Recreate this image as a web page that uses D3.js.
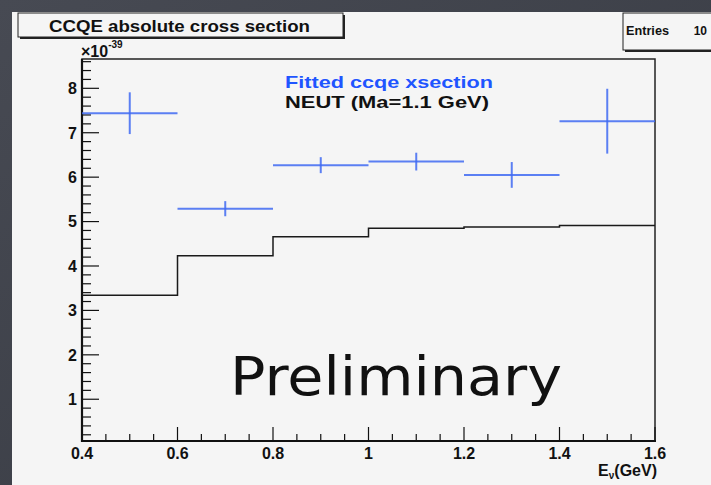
<!DOCTYPE html>
<html><head><meta charset="utf-8">
<script src="https://cdn.jsdelivr.net/npm/d3@7"></script>
<style>
html,body{margin:0;padding:0;background:#3d4048;}
svg{display:block;}
</style></head>
<body>
<script>
// ---- data ----
const binEdges = [0.4, 0.6, 0.8, 1.0, 1.2, 1.4, 1.6];
const fittedValues = [7.44, 5.29, 6.27, 6.35, 6.05, 7.26];
const fittedErrors = [0.47, 0.17, 0.18, 0.20, 0.29, 0.73];
const neutValues = [3.34, 4.23, 4.66, 4.85, 4.88, 4.91];
const xTicks = [0.4, 0.6, 0.8, 1.0, 1.2, 1.4, 1.6];
const yTicks = [1, 2, 3, 4, 5, 6, 7, 8];
const titleText = "CCQE absolute cross section";
const legendLabels = ["Fitted ccqe xsection", "NEUT (Ma=1.1 GeV)"];
const entriesCount = 10;

const W = 711, H = 485;
const svg = d3.select("body").append("svg").attr("width", W).attr("height", H);

const defs = svg.append("defs");
const grad = defs.append("linearGradient").attr("id","bg").attr("x1",0).attr("y1",0).attr("x2",1).attr("y2",1);
grad.append("stop").attr("offset","0%").attr("stop-color","#474a53");
grad.append("stop").attr("offset","100%").attr("stop-color","#363941");
svg.append("rect").attr("width",W).attr("height",H).attr("fill","url(#bg)");

// pad
svg.append("rect").attr("x",12).attr("y",12).attr("width",W-12).attr("height",H-12).attr("fill","#f5f5f5");

const frame = {left: 82, right: 655, top: 59, bottom: 441};
const x = d3.scaleLinear().domain([0.4, 1.6]).range([frame.left, frame.right]);
const y = d3.scaleLinear().domain([0.06, 8.66]).range([frame.bottom, frame.top]);

const font = "'Liberation Sans', Arial, Helvetica, sans-serif";

// frame
svg.append("rect").attr("x",frame.left).attr("y",frame.top)
  .attr("width",frame.right-frame.left).attr("height",frame.bottom-frame.top)
  .attr("fill","none").attr("stroke","#222").attr("stroke-width",1.5);

const g = svg.append("g");
// y axis ticks (inside)
const yMinor = d3.range(1, 44).map(v => v*0.2).filter(v => v >= 0.06 && v <= 8.66);
g.selectAll("line.ymin").data(yMinor).join("line")
  .attr("x1", frame.left).attr("x2", d => frame.left + (Math.abs(d - Math.round(d)) < 1e-6 ? 17 : 9))
  .attr("y1", d => y(d)).attr("y2", d => y(d))
  .attr("stroke","#111").attr("stroke-width",1.2);
g.selectAll("text.ylab").data(yTicks).join("text")
  .attr("x", 77).attr("y", d => y(d) + 5.8)
  .attr("text-anchor","end").attr("font-family",font).attr("font-weight","bold")
  .attr("font-size",16).attr("fill","#111").text(d => d);

// x axis ticks (inside, upward)
const xMinor = d3.range(8, 33).map(v => v*0.05);
g.selectAll("line.xmin").data(xMinor).join("line")
  .attr("x1", d => x(d)).attr("x2", d => x(d))
  .attr("y1", frame.bottom).attr("y2", (d,i) => frame.bottom - (i % 4 === 0 ? 14 : 7))
  .attr("stroke","#111").attr("stroke-width",1.2);
g.selectAll("text.xlab").data(xTicks).join("text")
  .attr("x", d => x(d)).attr("y", 459)
  .attr("text-anchor","middle").attr("font-family",font).attr("font-weight","bold")
  .attr("font-size",16).attr("fill","#111").text(d => String(+d.toFixed(1)));

// axis lines (thick)
svg.append("line").attr("x1",frame.left).attr("x2",frame.left).attr("y1",frame.top).attr("y2",frame.bottom+1)
  .attr("stroke","#111").attr("stroke-width",2.2);
svg.append("line").attr("x1",frame.left-1).attr("x2",frame.right+1).attr("y1",frame.bottom).attr("y2",frame.bottom)
  .attr("stroke","#111").attr("stroke-width",2.2);

// NEUT histogram step
const stepPts = [];
neutValues.forEach((v,i) => { stepPts.push([binEdges[i], v]); stepPts.push([binEdges[i+1], v]); });
svg.append("path")
  .attr("d", d3.line().x(d => x(d[0])).y(d => y(d[1]))(stepPts))
  .attr("fill","none").attr("stroke","#1a1a1a").attr("stroke-width",1.5);

// fitted points with errors
const pts = fittedValues.map((v,i) => ({lo: binEdges[i], hi: binEdges[i+1], c: (binEdges[i]+binEdges[i+1])/2, v, e: fittedErrors[i]}));
const pg = svg.append("g").attr("stroke","#3f6af2").attr("stroke-width",2).attr("stroke-opacity",0.85);
pg.selectAll("line.h").data(pts).join("line")
  .attr("x1", d => x(d.lo)).attr("x2", d => x(d.hi)).attr("y1", d => y(d.v)).attr("y2", d => y(d.v));
pg.selectAll("line.v").data(pts).join("line")
  .attr("x1", d => x(d.c)).attr("x2", d => x(d.c)).attr("y1", d => y(d.v - d.e)).attr("y2", d => y(d.v + d.e));

// title box
svg.append("rect").attr("x",20).attr("y",15).attr("width",325).attr("height",24).attr("fill","#222");
svg.append("rect").attr("x",18).attr("y",13).attr("width",325).attr("height",24).attr("fill","#f5f5f5").attr("stroke","#222").attr("stroke-width",1);
svg.append("text").attr("x",49).attr("y",32)
  .attr("font-family",font).attr("font-weight","bold").attr("font-size",16).attr("fill","#111")
  .attr("textLength",261).attr("lengthAdjust","spacingAndGlyphs").text(titleText);

// entries box
svg.append("rect").attr("x",625).attr("y",15).attr("width",100).attr("height",37).attr("fill","#222");
svg.append("rect").attr("x",623).attr("y",13).attr("width",100).attr("height",37).attr("fill","#f5f5f5").attr("stroke","#222").attr("stroke-width",1);
svg.append("text").attr("x",626).attr("y",35).attr("font-family",font).attr("font-weight","bold").attr("font-size",12).attr("fill","#111")
  .attr("textLength",43).attr("lengthAdjust","spacingAndGlyphs").text("Entries");
svg.append("text").attr("x",707).attr("y",35).attr("text-anchor","end").attr("font-family",font).attr("font-weight","bold").attr("font-size",12).attr("fill","#111").text(entriesCount);

// multiplier
const mult = svg.append("text").attr("x",81).attr("y",57).attr("font-family",font).attr("font-weight","bold").attr("font-size",16).attr("fill","#111");
mult.append("tspan").text("\u00d710");
mult.append("tspan").attr("font-size",10).attr("dy",-9).text("-39");

// legend text
svg.append("text").attr("x",285).attr("y",88).attr("font-family",font).attr("font-weight","bold").attr("font-size",17).attr("fill","#1f55ff")
  .attr("textLength",208).attr("lengthAdjust","spacingAndGlyphs").text(legendLabels[0]);
svg.append("text").attr("x",285).attr("y",107.5).attr("font-family",font).attr("font-weight","bold").attr("font-size",17).attr("fill","#111")
  .attr("textLength",204).attr("lengthAdjust","spacingAndGlyphs").text(legendLabels[1]);

// x axis title
const xt = svg.append("text").attr("x",657).attr("y",476).attr("text-anchor","end").attr("font-family",font).attr("font-weight","bold").attr("font-size",16).attr("fill","#111");
xt.append("tspan").text("E");
xt.append("tspan").attr("font-size",10).attr("dy",3).text("\u03bd");
xt.append("tspan").attr("dy",-3).text("(GeV)");

// Preliminary
svg.append("text").attr("x",230).attr("y",395).attr("font-family","'DejaVu Sans', sans-serif")
  .attr("font-size",54).attr("fill","#111").attr("textLength",332).attr("lengthAdjust","spacingAndGlyphs").text("Preliminary");
</script>
</body></html>
